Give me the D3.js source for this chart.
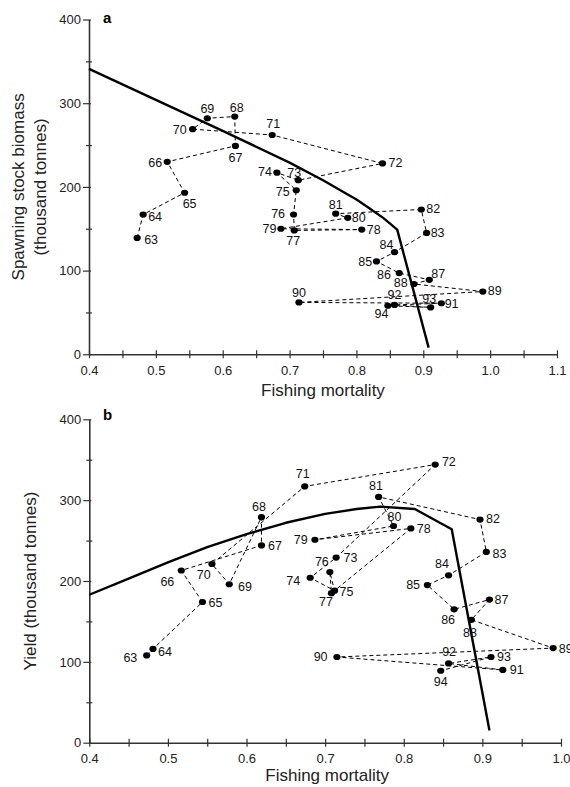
<!DOCTYPE html>
<html>
<head>
<meta charset="utf-8">
<script src="https://cdn.jsdelivr.net/npm/d3@7"></script>
<style>
  body { margin: 0; background: #fff; }
  svg { display: block; font-family: "Liberation Sans", Arial, sans-serif; }
</style>
</head>
<body>
<svg id="chart" width="570" height="787"></svg>
<script>
// years 1963-1994
const years = d3.range(63, 95);

// panel a: fishing mortality vs spawning stock biomass
const fA = [0.472, 0.481, 0.543, 0.517, 0.619, 0.618, 0.577, 0.555, 0.674, 0.839,
            0.713, 0.681, 0.710, 0.706, 0.707, 0.808, 0.687, 0.787, 0.769, 0.897,
            0.905, 0.857, 0.830, 0.864, 0.909, 0.886, 0.989, 0.714, 0.927, 0.857,
            0.911, 0.847];
const ssb = [139, 167, 193, 230, 249, 284, 282, 269, 262, 228,
             208, 217, 196, 167, 148, 149, 150, 163, 168, 173,
             145, 122, 111, 97, 89, 84, 75, 62, 61, 59,
             56, 58];

// panel b: fishing mortality vs yield
const fB = [0.473, 0.481, 0.544, 0.517, 0.619, 0.619, 0.578, 0.556, 0.674, 0.840,
            0.714, 0.681, 0.712, 0.706, 0.708, 0.809, 0.687, 0.787, 0.768, 0.897,
            0.905, 0.857, 0.830, 0.864, 0.909, 0.886, 0.990, 0.715, 0.926, 0.857,
            0.911, 0.847];
const yieldB = [108, 116, 174, 213, 244, 279, 196, 221, 317, 344,
                229, 204, 188, 211, 185, 265, 251, 268, 304, 276,
                236, 207, 195, 165, 177, 152, 117, 106, 90, 98,
                106, 89];

// equilibrium curves
const curveAF = [0.40, 0.50, 0.60, 0.70, 0.75, 0.80, 0.815, 0.84, 0.861, 0.908];
const curveAY = [341, 304, 267, 229, 208, 185, 177, 163, 149, 8];
const curveBF = [0.40, 0.45, 0.50, 0.55, 0.60, 0.65, 0.70, 0.74, 0.77, 0.814, 0.861, 0.909];
const curveBY = [183, 203, 223, 242, 258, 272, 283, 289, 292, 289, 264, 15];

// ticks
const xTicksA = [0.4, 0.45, 0.5, 0.55, 0.6, 0.65, 0.7, 0.75, 0.8, 0.85, 0.9, 0.95, 1.0, 1.05, 1.1];
const xLabelsA = ["0.4", "0.5", "0.6", "0.7", "0.8", "0.9", "1.0", "1.1"];
const xTicksB = [0.4, 0.45, 0.5, 0.55, 0.6, 0.65, 0.7, 0.75, 0.8, 0.85, 0.9, 0.95, 1.0];
const xLabelsB = ["0.4", "0.5", "0.6", "0.7", "0.8", "0.9", "1.0"];
const yTicks = [0, 50, 100, 150, 200, 250, 300, 350, 400];
const yLabels = ["0", "100", "200", "300", "400"];

// label placement: [dx, dy, anchor]
const labA = {
  63: [7, 2, "s"], 64: [5, 2, "s"], 65: [5, 11, "m"], 66: [-5, 1, "e"],
  67: [0, 11.5, "m"], 68: [2, -9, "m"], 69: [0, -9.5, "m"], 70: [-6, 0, "e"],
  71: [1, -11, "m"], 72: [6, -1, "s"], 73: [-4, -7.5, "m"], 74: [-5, -1, "e"],
  75: [-6.5, 1, "e"], 76: [-8.5, -1, "e"], 77: [-1, 10.5, "m"], 78: [5, 0, "s"],
  79: [-4.5, 0, "e"], 80: [4, 0, "s"], 81: [0, -8.7, "m"], 82: [5, -1, "s"],
  83: [4, 0, "s"], 84: [-8, -7.3, "m"], 85: [-4.3, 0, "e"], 86: [-8.2, 2, "e"],
  87: [9, -5.7, "m"], 88: [-6.2, -1, "e"], 89: [5, -1, "s"], 90: [0, -10, "m"],
  91: [3.3, 0, "s"], 92: [0, -10.5, "m"], 93: [-1.4, -8.6, "m"], 94: [-6.3, 8, "m"]
};
const labB = {
  63: [-9.4, 2.7, "e"], 64: [5, 3, "s"], 65: [6, 1, "s"], 66: [-7, 11, "e"],
  67: [6.6, 0, "s"], 68: [-2.5, -11, "m"], 69: [8.7, 2, "s"], 70: [-8.3, 10.7, "m"],
  71: [-2, -12.5, "m"], 72: [6.7, -2.7, "s"], 73: [7.3, 0, "s"], 74: [-10, 3, "e"],
  75: [5, 1, "s"], 76: [-8, -10.5, "m"], 77: [-5.4, 8.7, "m"], 78: [6, 0, "s"],
  79: [-7.3, 0, "e"], 80: [1, -9.6, "m"], 81: [-2.7, -10.8, "m"], 82: [6, -1, "s"],
  83: [6.3, 1.6, "s"], 84: [-6.6, -11.7, "m"], 85: [-7.3, 0, "e"], 86: [-6, 10.7, "m"],
  87: [5, 0, "s"], 88: [-1.3, 12.5, "m"], 89: [5.6, 0.6, "s"], 90: [-9.4, 0, "e"],
  91: [7, 0, "s"], 92: [0.5, -11.7, "m"], 93: [6, 0, "s"], 94: [0, 10.6, "m"]
};

const svg = d3.select("#chart");
const anchorOf = { s: "start", e: "end", m: "middle" };
const axisColor = "#333";

function drawPanel(opt) {
  const x = d3.scaleLinear().domain(opt.xDomain).range(opt.xRange);
  const y = d3.scaleLinear().domain([0, 400]).range(opt.yRange);
  const g = svg.append("g");

  // x axis
  const xAxis = g.append("g")
    .attr("transform", `translate(0,${y(0)})`)
    .call(d3.axisBottom(x).tickValues(opt.xTicks).tickSize(4).tickSizeOuter(0)
      .tickFormat(d => (Math.round(d * 100) % 10 === 0 ? d.toFixed(1) : "")));
  xAxis.select(".domain").attr("stroke", axisColor).attr("stroke-width", 1.6);
  xAxis.selectAll(".tick line").attr("y1", -4).attr("y2", 4)
    .attr("stroke", axisColor).attr("stroke-width", 1.2);
  xAxis.selectAll(".tick text").attr("y", 0).attr("dy", 20.5)
    .attr("font-size", 13).attr("fill", "#222");
  xAxis.attr("font-family", null);

  // y axis
  const yAxis = g.append("g")
    .attr("transform", `translate(${x(opt.xDomain[0])},0)`)
    .call(d3.axisLeft(y).tickValues(yTicks).tickSize(6).tickSizeOuter(0)
      .tickFormat(d => (d % 100 === 0 ? String(d) : "")));
  yAxis.select(".domain").attr("stroke", axisColor).attr("stroke-width", 1.6);
  yAxis.selectAll(".tick line")
    .attr("x1", d => (d % 100 === 0 ? 2 : 3))
    .attr("x2", d => (d % 100 === 0 ? -6 : -3))
    .attr("stroke", axisColor).attr("stroke-width", 1.2);
  yAxis.selectAll(".tick text").attr("x", -8)
    .attr("font-size", 13).attr("fill", "#222");
  yAxis.attr("font-family", null);

  // equilibrium curve
  const curvePts = opt.curveF.map((f, i) => [f, opt.curveV[i]]);
  g.append("path")
    .datum(curvePts)
    .attr("d", d3.line().x(d => x(d[0])).y(d => y(d[1])))
    .attr("fill", "none").attr("stroke", "#000").attr("stroke-width", 2.4)
    .attr("stroke-linejoin", "round");

  // year trajectory
  const pts = years.map((yr, i) => ({ yr, f: opt.f[i], v: opt.v[i] }));
  g.append("path")
    .datum(pts)
    .attr("d", d3.line().x(d => x(d.f)).y(d => y(d.v)))
    .attr("fill", "none").attr("stroke", "#000").attr("stroke-width", 1)
    .attr("stroke-dasharray", "4,3");

  g.selectAll("ellipse.pt").data(pts).join("ellipse")
    .attr("class", "pt")
    .attr("cx", d => x(d.f)).attr("cy", d => y(d.v))
    .attr("rx", 3.6).attr("ry", 3.1).attr("fill", "#000");

  g.selectAll("text.yr").data(pts).join("text")
    .attr("class", "yr")
    .attr("x", d => x(d.f) + opt.lab[d.yr][0])
    .attr("y", d => y(d.v) + opt.lab[d.yr][1])
    .attr("dy", "0.35em")
    .attr("text-anchor", d => anchorOf[opt.lab[d.yr][2]])
    .attr("font-size", 12.5).attr("fill", "#111")
    .text(d => d.yr);

  // panel letter
  g.append("text").attr("x", 103).attr("y", opt.letterY)
    .attr("font-size", 15).attr("font-weight", "bold").text(opt.letter);

  // x title
  g.append("text")
    .attr("x", (opt.xRange[0] + opt.xRange[1]) / 2 + (opt.xTitleShift || 0))
    .attr("y", opt.xTitleY)
    .attr("text-anchor", "middle").attr("font-size", 17).attr("fill", "#222")
    .text("Fishing mortality");

  // y title
  const yc = (opt.yRange[0] + opt.yRange[1]) / 2;
  opt.yTitle.forEach((t, i) => {
    g.append("text")
      .attr("transform", `translate(${opt.yTitleX[i]},${yc}) rotate(-90)`)
      .attr("text-anchor", "middle").attr("font-size", 17).attr("fill", "#222")
      .text(t);
  });
}

drawPanel({
  xDomain: [0.4, 1.1], xRange: [89, 557], yRange: [354.3, 19.5],
  xTicks: xTicksA, f: fA, v: ssb, curveF: curveAF, curveV: curveAY, lab: labA,
  letter: "a", letterY: 23, xTitleY: 396, xTitleShift: 0,
  yTitle: ["Spawning stock biomass", "(thousand tonnes)"], yTitleX: [24, 46]
});

drawPanel({
  xDomain: [0.4, 1.0], xRange: [89.3, 561], yRange: [742.7, 419.3],
  xTicks: xTicksB, f: fB, v: yieldB, curveF: curveBF, curveV: curveBY, lab: labB,
  letter: "b", letterY: 420, xTitleY: 781, xTitleShift: 2,
  yTitle: ["Yield (thousand tonnes)"], yTitleX: [36]
});
</script>
</body>
</html>
